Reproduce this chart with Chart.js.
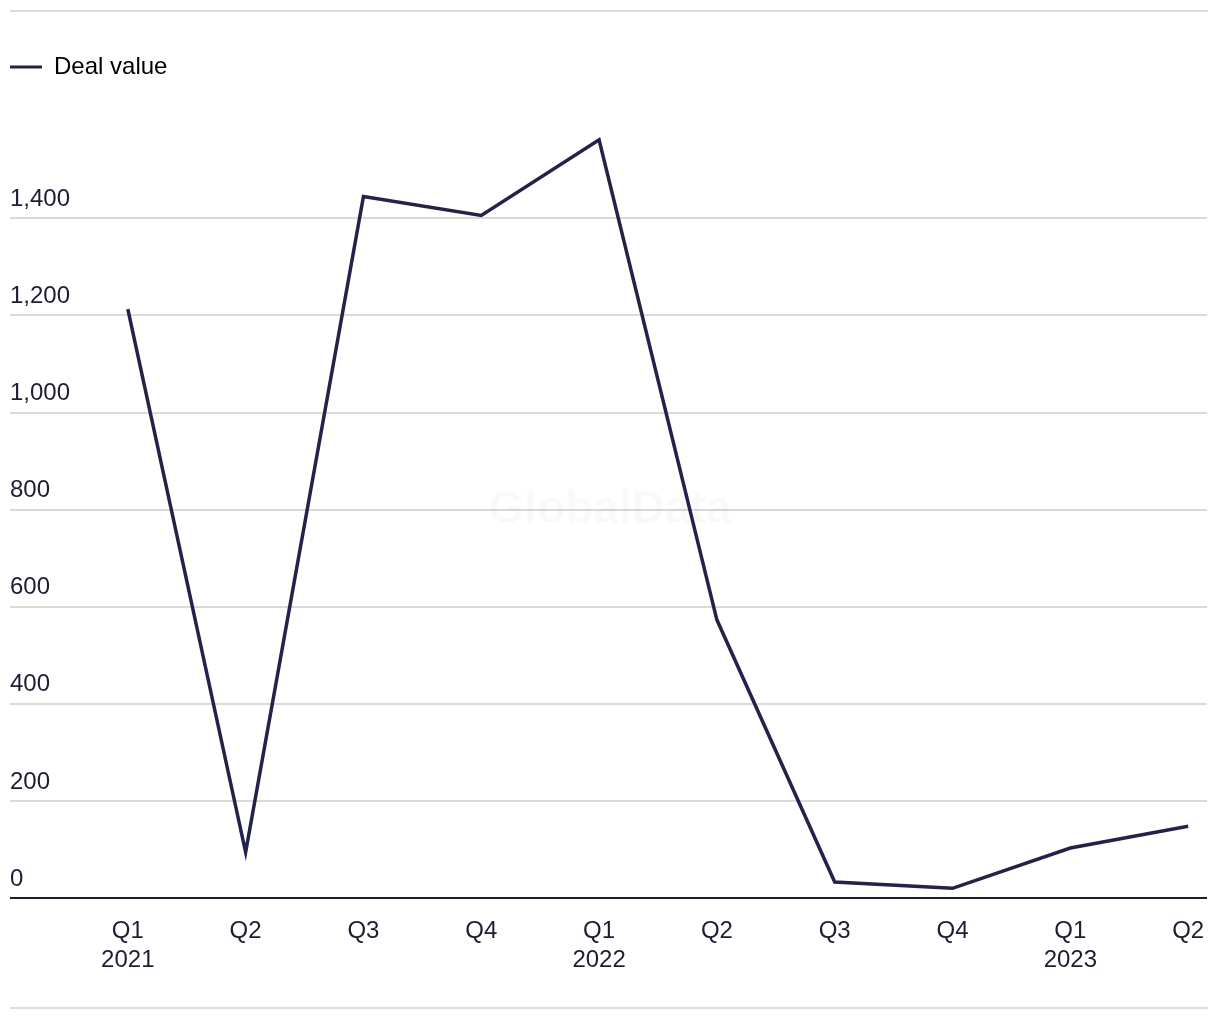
<!DOCTYPE html>
<html>
<head>
<meta charset="utf-8">
<script src="https://cdn.jsdelivr.net/npm/chart.js@4.4.0/dist/chart.umd.min.js"></script>
<style>
  html, body { margin: 0; padding: 0; background: #fff; }
  #wrap { width: 1220px; height: 1020px; position: relative; }
</style>
</head>
<body>
<div id="wrap"><canvas id="myChart"></canvas></div>
<script>
/* globals Chart:false */

// Data
const quarters = ["Q1", "Q2", "Q3", "Q4", "Q1", "Q2", "Q3", "Q4", "Q1", "Q2"];
const years = ["2021", "", "", "", "2022", "", "", "", "2023", ""];
const dealValue = [1213, 94, 1445, 1406, 1562, 573, 33, 20, 103, 148];
const yTicks = [0, 200, 400, 600, 800, 1000, 1200, 1400];

(() => {
  "use strict";

  const ink = "#23224a";
  const textColor = "#1e1d33";
  const fontFamily = "'Liberation Sans', Arial, sans-serif";

  // page rules above and below the chart, plus the faint watermark
  const decor = {
    id: "decor",
    beforeInit(chart) {
      const fit = chart.legend.fit;
      chart.legend.fit = function () {
        fit.bind(chart.legend)();
        this.height += 42;
      };
    },
    beforeDraw(chart) {
      const c = chart.ctx;
      c.save();
      c.strokeStyle = "#dcdcdc";
      c.lineWidth = 2;
      c.beginPath();
      c.moveTo(10, 11);
      c.lineTo(1208, 11);
      c.moveTo(10, 1008);
      c.lineTo(1208, 1008);
      c.stroke();
      c.restore();
    },
    beforeDatasetsDraw(chart) {
      const c = chart.ctx;
      c.save();
      c.font = "bold 46px " + fontFamily;
      c.fillStyle = "rgba(0,0,0,0.025)";
      c.textAlign = "center";
      c.textBaseline = "middle";
      c.fillText("GlobalData", 610, 510);
      c.restore();
    },
  };

  const ctx = document.getElementById("myChart");
  // eslint-disable-next-line no-unused-vars
  const myChart = new Chart(ctx, {
    type: "line",
    data: {
      datasets: [
        {
          label: "Deal value",
          data: dealValue.map((v, i) => ({ x: i, y: v })),
          borderColor: ink,
          backgroundColor: ink,
          borderWidth: 3.5,
          pointRadius: 0,
          tension: 0,
        },
      ],
    },
    options: {
      responsive: true,
      maintainAspectRatio: false,
      animation: false,
      layout: {
        padding: { top: 55, left: 10, right: 13, bottom: 12 },
      },
      plugins: {
        legend: {
          display: true,
          position: "top",
          align: "start",
          labels: {
            boxWidth: 32,
            boxHeight: 3,
            padding: 0,
            color: textColor,
            font: { family: fontFamily, size: 24 },
            generateLabels: () => [
              {
                text: "Deal value",
                fillStyle: ink,
                strokeStyle: ink,
                lineWidth: 0,
                datasetIndex: 0,
              },
            ],
          },
        },
        tooltip: { enabled: false },
      },
      scales: {
        x: {
          type: "linear",
          min: -1,
          max: 9.16,
          afterBuildTicks(scale) {
            scale.ticks = quarters.map((q, i) => ({ value: i }));
          },
          afterFit(scale) {
            scale.height = 110;
          },
          grid: { display: false },
          border: { display: false },
          ticks: {
            color: textColor,
            font: { family: fontFamily, size: 24 },
            padding: 11,
            maxRotation: 0,
            autoSkip: false,
            callback: (v) => {
              const i = Math.round(v);
              return years[i] ? [quarters[i], years[i]] : quarters[i];
            },
          },
        },
        y: {
          min: 0,
          max: 1580,
          afterBuildTicks(scale) {
            scale.ticks = yTicks.map((v) => ({ value: v }));
          },
          grid: {
            drawTicks: false,
            color: (c) => (c.tick && c.tick.value === 0 ? "#1c1b33" : "#dadada"),
            lineWidth: 2,
          },
          border: { display: false },
          ticks: {
            mirror: true,
            padding: 0,
            labelOffset: -19,
            color: textColor,
            font: { family: fontFamily, size: 24 },
            callback: (v) => v.toLocaleString("en-US"),
          },
        },
      },
    },
    plugins: [decor],
  });
})();
</script>
</body>
</html>
